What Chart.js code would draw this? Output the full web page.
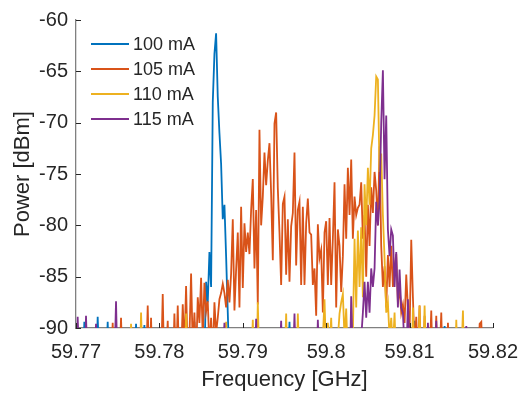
<!DOCTYPE html>
<html>
<head>
<meta charset="utf-8">
<title>Laser spectrum vs. drive current</title>
<script src="https://cdn.jsdelivr.net/npm/chart.js@4.4.1/dist/chart.umd.min.js"></script>
<style>
  html, body { margin: 0; padding: 0; background: #ffffff; }
  canvas { display: block; }
</style>
</head>
<body>
<canvas id="spectrum" width="530" height="396"></canvas>
<script>
// Spectrum analyser sweep: 59.77 .. 59.82 GHz, one sample every 0.2 MHz
const freqStart = 59.77;
const freqStep = 0.0002;
const sampleCount = 251;

const seriesLabels = ['100 mA', '105 mA', '110 mA', '115 mA'];
const seriesColors = ['#0072BD', '#D95319', '#EDB120', '#7E2F8E'];

const xTickValues = [59.77, 59.78, 59.79, 59.80, 59.81, 59.82];
const yTickValues = [-90, -85, -80, -75, -70, -65, -60];

// Measured power [dBm] per sample, one list per bias current
const p100 = [
  -95, -94, -96, -93, -95, -89.4, -94, -96, -95, -93,
  -96, -94, -95, -88.9, -94, -96, -93, -95, -94, -89.4,
  -95, -96, -94, -93, -95, -96, -94, -95, -93, -96,
  -94, -95, -96, -93, -95, -94, -89.6, -95, -96, -94,
  -93, -89.7, -95, -96, -94, -95, -93, -96, -94, -95,
  -96, -94, -93, -95, -96, -94, -95, -93, -96, -94,
  -95, -96, -94, -93, -95, -94, -96, -95, -93, -94,
  -96, -89.4, -95, -94, -93, -96, -94, -93, -85.5, -87.5,
  -82.6, -86, -68, -63.3, -61.3, -67.5, -71, -74, -79.4, -78,
  -83, -88.5, -94, -96, -95, -93, -94, -96, -95, -94,
  -93, -96, -94, -95, -96, -93, -94, -95, -96, -94,
  -95, -93, -96, -94, -95, -96, -94, -93, -95, -96,
  -94, -95, -93, -96, -94, -95, -96, -94, -89.4, -95,
  -96, -94, -93, -95, -96, -94, -95, -93, -96, -94,
  -95, -96, -94, -93, -95, -94, -96, -95, -93, -94,
  -96, -95, -94, -93, -96, -94, -95, -96, -93, -94,
  -95, -96, -94, -95, -93, -96, -94, -95, -96, -93,
  -94, -95, -96, -94, -93, -95, -96, -94, -95, -93,
  -96, -94, -95, -93, -96, -94, -95, -96, -94, -93,
  -95, -96, -94, -95, -93, -96, -94, -95, -96, -94,
  -93, -95, -96, -89.3, -94, -95, -93, -96, -94, -95,
  -96, -94, -93, -95, -96, -94, -95, -93, -96, -94,
  -95, -89.8, -94, -96, -93, -95, -94, -96, -95, -93,
  -94, -96, -95, -94, -93, -96, -94, -95, -96, -94,
  -93, -95, -96, -94, -95, -93, -96, -94, -95, -96,
  -94
];

const p105 = [
  -95, -96, -94, -93, -95, -96, -94, -95, -93, -96,
  -94, -95, -96, -93, -94, -95, -96, -94, -93, -95,
  -96, -94, -89.5, -95, -93, -96, -94, -89.0, -95, -96,
  -94, -93, -95, -96, -94, -95, -93, -96, -94, -95,
  -96, -93, -94, -87.8, -95, -89, -96, -94, -93, -95,
  -96, -94, -86.7, -95, -93, -89.3, -96, -94, -95, -88.6,
  -94, -87.8, -95, -93, -87.7, -92, -85.9, -93, -91, -84.7,
  -92, -88.5, -93, -87, -89.5, -85.1, -91, -85.6, -88.4, -87.4,
  -92, -89, -93, -87.5, -90.5, -89, -87.2, -86.6, -85.7, -86.6,
  -88, -85.3, -87.5, -84.7, -79.4, -88.3, -84.3, -80.7, -88, -78.2,
  -86.1, -79.8, -82.6, -80.7, -82.8, -78.5, -75.5, -84.2, -78.5, -87.7,
  -70.7, -80, -77.2, -72.9, -76.1, -73.7, -72, -76.9, -83.4, -70.1,
  -69, -76.4, -80.7, -85.8, -77.9, -77.2, -84.8, -79.4, -85.5, -80.1,
  -78.8, -72.9, -83.9, -78.5, -77.7, -85.8, -78.2, -85.8, -79.8, -77.4,
  -80.7, -80.9, -85.8, -84.2, -88.8, -79.9, -83.2, -82.4, -88.5, -80.7,
  -79.6, -85.8, -79.3, -85.8, -81.3, -75.8, -88, -80.4, -82, -86.5,
  -83, -76, -81.3, -74.4, -79, -73.6, -81.3, -77.2, -79, -78.3,
  -78, -75.8, -81.3, -79, -85, -78, -82, -76.3, -78.8, -74.8,
  -76.6, -80, -72.3, -82, -86, -84, -88, -82.9, -86, -82,
  -86, -84, -82.8, -87.5, -86, -88.5, -87.7, -89.5, -84.8, -88,
  -90.5, -81.4, -87, -92, -88.9, -93, -87.8, -94, -95, -88.8,
  -94, -96, -93, -88.3, -95, -94, -88.8, -96, -93, -88.5,
  -95, -94, -96, -89.5, -93, -95, -96, -94, -95, -93,
  -96, -94, -95, -93, -96, -94, -95, -96, -94, -93,
  -95, -96, -89.6, -89.4, -94, -95, -93, -96, -94, -95,
  -96
];

const p110 = [
  -94, -96, -95, -93, -96, -94, -95, -96, -93, -94,
  -95, -96, -94, -93, -95, -96, -94, -95, -93, -96,
  -94, -95, -96, -93, -94, -95, -96, -94, -93, -95,
  -96, -94, -95, -89.6, -93, -96, -94, -95, -96, -88.5,
  -94, -93, -95, -96, -94, -95, -93, -96, -94, -95,
  -96, -93, -94, -95, -96, -94, -93, -95, -96, -94,
  -95, -93, -96, -94, -95, -96, -88.6, -94, -93, -95,
  -96, -94, -95, -93, -96, -94, -95, -96, -94, -93,
  -95, -96, -94, -95, -93, -96, -94, -95, -96, -94,
  -89.4, -95, -96, -94, -93, -95, -96, -94, -95, -93,
  -96, -94, -95, -96, -93, -94, -89.2, -95, -96, -87.5,
  -94, -95, -93, -96, -94, -95, -96, -93, -94, -95,
  -96, -94, -93, -95, -96, -94, -88.6, -95, -93, -96,
  -94, -95, -96, -88.6, -94, -93, -95, -96, -94, -95,
  -93, -96, -94, -95, -96, -93, -94, -95, -91, -87.2,
  -93, -89.5, -92, -89, -94, -93, -92, -91, -88.6, -87.5,
  -86.7, -91, -88.1, -93, -95, -92, -90.5, -81.3, -88, -80.5,
  -86, -80.2, -87, -76, -80, -74.4, -78, -72.5, -71.2, -69.3,
  -65.5, -65.8, -74.8, -73, -79, -83.2, -88.5, -87.5, -91, -89,
  -92, -88.5, -94, -90.5, -93, -95, -94, -96, -93, -95,
  -94, -96, -88, -95, -93, -94, -87.8, -96, -95, -87.8,
  -94, -95, -96, -93, -94, -95, -96, -94, -93, -95,
  -96, -94, -95, -93, -96, -94, -95, -96, -89.2, -94,
  -95, -93, -88.3, -96, -94, -95, -93, -96, -94, -95,
  -96, -93, -94, -95, -96, -94, -93, -95, -96, -94,
  -95
];

const p115 = [
  -96, -88.9, -94, -95, -93, -96, -88.8, -94, -95, -96,
  -93, -94, -89.6, -95, -96, -94, -93, -95, -96, -94,
  -95, -93, -96, -94, -87.4, -95, -96, -94, -93, -95,
  -96, -94, -95, -93, -96, -94, -95, -96, -94, -93,
  -95, -96, -94, -95, -93, -96, -94, -95, -96, -94,
  -93, -95, -96, -94, -95, -93, -96, -94, -95, -96,
  -94, -93, -95, -96, -94, -95, -93, -96, -94, -95,
  -96, -94, -93, -95, -96, -94, -95, -93, -96, -94,
  -95, -96, -94, -93, -95, -96, -94, -95, -93, -89.5,
  -96, -94, -95, -96, -93, -94, -95, -96, -94, -93,
  -95, -96, -94, -95, -93, -96, -94, -95, -89.1, -96,
  -94, -93, -95, -96, -94, -95, -93, -96, -94, -95,
  -96, -94, -93, -89.3, -95, -96, -94, -95, -93, -96,
  -94, -88.6, -95, -96, -94, -93, -95, -96, -94, -95,
  -93, -96, -94, -95, -96, -89.2, -94, -93, -95, -96,
  -94, -95, -93, -96, -94, -95, -96, -93, -94, -95,
  -96, -94, -93, -95, -96, -86.9, -93, -91, -94, -92,
  -90.5, -91, -88.5, -85.5, -89, -85.5, -88.5, -84.2, -86, -84.2,
  -77.7, -80, -77.7, -70, -64.9, -75.5, -69.3, -80.4, -83, -80.4,
  -81, -86, -82.6, -88, -84.3, -88, -88.5, -92, -94, -87.2,
  -92, -95, -93, -96, -94, -95, -93, -96, -94, -95,
  -96, -89.5, -94, -93, -95, -96, -89.3, -94, -95, -93,
  -96, -94, -95, -93, -96, -94, -95, -96, -94, -93,
  -95, -96, -94, -95, -89.8, -93, -96, -94, -95, -96,
  -94, -93, -95, -96, -94, -95, -93, -96, -94, -95,
  -96
];

const seriesValues = [p100, p105, p110, p115];

// Frequency axis of the sweep [GHz]
const freqGHz = Array.from({ length: sampleCount }, (_, i) => +(freqStart + i * freqStep).toFixed(5));

const FONT = '"Liberation Sans", Arial, Helvetica, sans-serif';
const TEXT = '#262626';
const AXIS = '#808080';
const LINE_W = 1.8;

// Later currents are drawn on top of earlier ones
const datasets = seriesLabels.map((label, k) => ({
  label,
  data: seriesValues[k].map((v, i) => ({ x: freqGHz[i], y: v })),
  borderColor: seriesColors[k],
  backgroundColor: seriesColors[k],
  borderWidth: LINE_W,
  pointRadius: 0,
  tension: 0,
  fill: false,
  clip: 0,
  order: seriesLabels.length - k
}));

// Legend without a frame, placed in the upper-left corner of the plot area
const cornerLegend = {
  id: 'cornerLegend',
  afterDatasetsDraw(chart) {
    const { ctx, chartArea } = chart;
    const x0 = chartArea.left + 15;
    const y0 = chartArea.top + 24;
    ctx.save();
    ctx.font = '18px ' + FONT;
    ctx.textBaseline = 'middle';
    ctx.textAlign = 'left';
    chart.data.datasets.forEach((ds, k) => {
      const y = y0 + k * 25;
      ctx.strokeStyle = ds.borderColor;
      ctx.lineWidth = LINE_W;
      ctx.beginPath();
      ctx.moveTo(x0, y);
      ctx.lineTo(x0 + 38, y);
      ctx.stroke();
      ctx.fillStyle = TEXT;
      ctx.fillText(ds.label, x0 + 42, y + 1);
    });
    ctx.restore();
  }
};

// Short tick marks pointing into the plot area
const innerTicks = {
  id: 'innerTicks',
  afterDatasetsDraw(chart) {
    const { ctx, chartArea, scales } = chart;
    const len = 5;
    ctx.save();
    ctx.strokeStyle = TEXT;
    ctx.lineWidth = 1;
    ctx.beginPath();
    scales.x.ticks.forEach(t => {
      const px = Math.round(scales.x.getPixelForValue(t.value)) + 0.5;
      ctx.moveTo(px, chartArea.bottom);
      ctx.lineTo(px, chartArea.bottom - len);
    });
    scales.y.ticks.forEach(t => {
      const py = Math.round(scales.y.getPixelForValue(t.value)) + 0.5;
      ctx.moveTo(chartArea.left, py);
      ctx.lineTo(chartArea.left + len, py);
    });
    ctx.stroke();
    ctx.restore();
  }
};

new Chart(document.getElementById('spectrum'), {
  type: 'line',
  data: { datasets },
  options: {
    responsive: false,
    animation: false,
    events: [],
    layout: { padding: { top: 12, right: 28, left: 0, bottom: 0 } },
    plugins: {
      legend: { display: false },
      tooltip: { enabled: false }
    },
    scales: {
      x: {
        type: 'linear',
        min: xTickValues[0],
        max: xTickValues[xTickValues.length - 1],
        afterBuildTicks: s => { s.ticks = xTickValues.map(v => ({ value: v })); },
        afterFit: s => { s.height = 68; },
        ticks: {
          font: { family: FONT, size: 20 },
          color: TEXT,
          padding: 12,
          maxRotation: 0,
          autoSkip: false,
          callback: v => String(parseFloat(Number(v).toFixed(3)))
        },
        grid: { display: false, drawTicks: false },
        border: { display: true, color: AXIS, width: 1.3 },
        title: {
          display: true,
          text: 'Frequency [GHz]',
          font: { family: FONT, size: 22 },
          color: TEXT,
          padding: { top: 0, bottom: 3 }
        }
      },
      y: {
        type: 'linear',
        min: yTickValues[0],
        max: yTickValues[yTickValues.length - 1],
        afterBuildTicks: s => { s.ticks = yTickValues.map(v => ({ value: v })); },
        afterFit: s => { s.width = 76; },
        ticks: {
          font: { family: FONT, size: 20 },
          color: TEXT,
          padding: 8,
          autoSkip: false,
          callback: v => String(v)
        },
        grid: { display: false, drawTicks: false },
        border: { display: true, color: AXIS, width: 1.3 },
        title: {
          display: true,
          text: 'Power [dBm]',
          font: { family: FONT, size: 22 },
          color: TEXT,
          padding: { top: 10, bottom: 0 }
        }
      }
    }
  },
  plugins: [cornerLegend, innerTicks]
});
</script>
</body>
</html>
